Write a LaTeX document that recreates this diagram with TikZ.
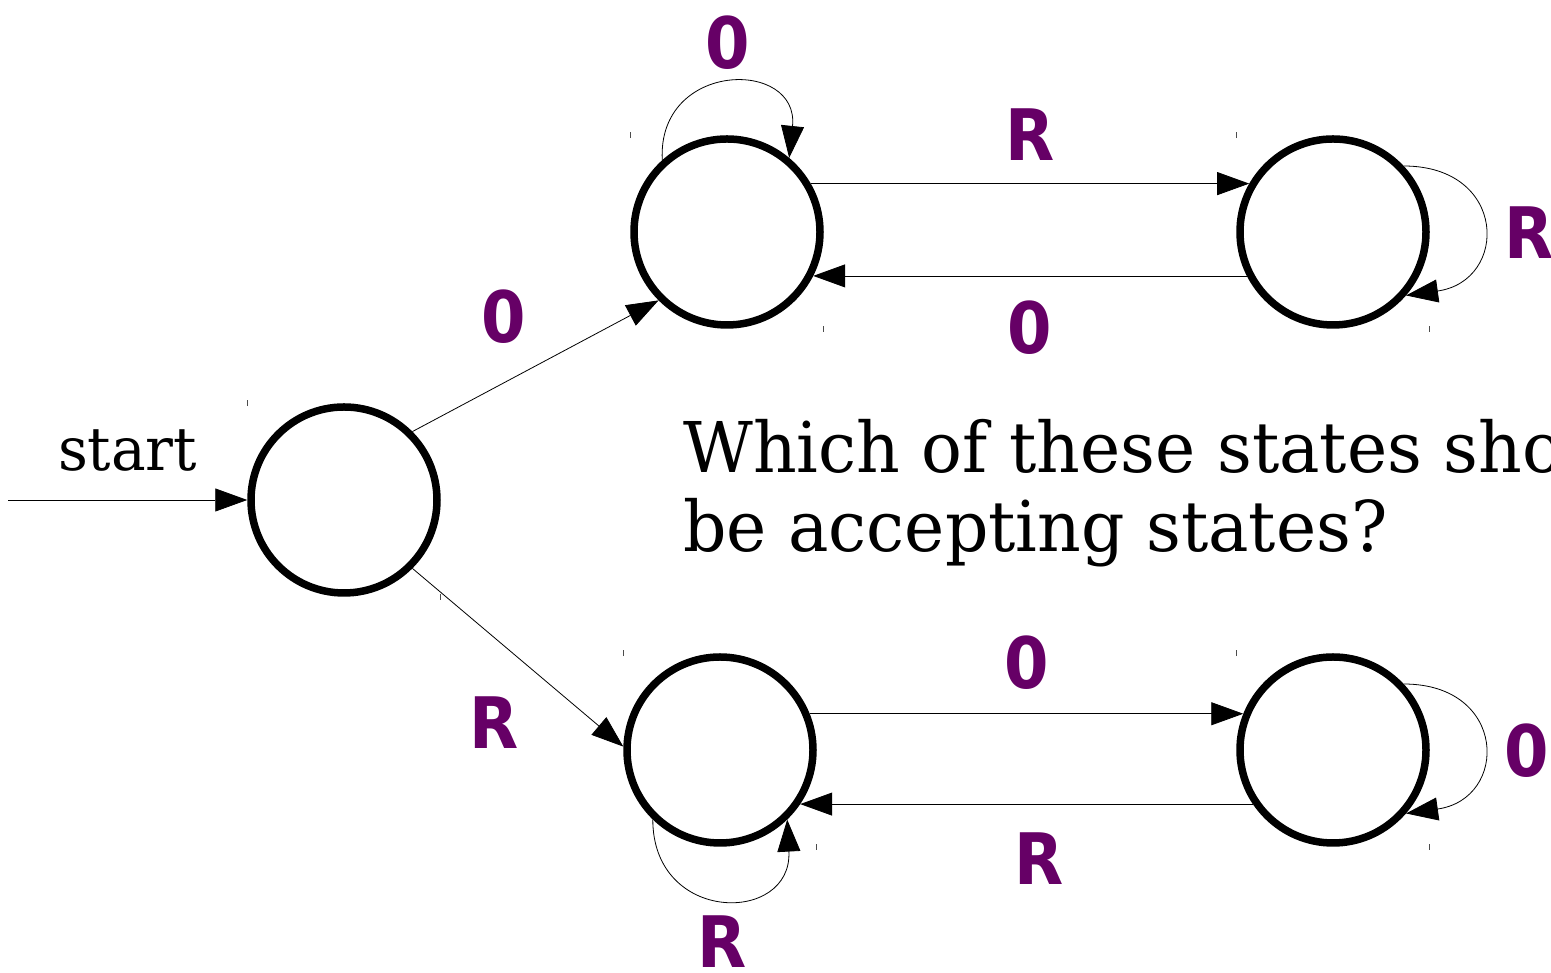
\documentclass[tikz,border=0pt]{standalone}
\usepackage{fontspec}
\setmainfont{DejaVu Serif}[FakeStretch=0.97]
\newfontfamily\symfont{DejaVu Sans}[FakeStretch=0.9]
\usepackage{tikz}
\usetikzlibrary{arrows.meta,positioning}
\definecolor{dfapurple}{HTML}{660066}

\begin{document}
\begin{tikzpicture}[
  x=1pt,y=1pt,
  state/.style={draw,circle,line width=7.5pt,minimum size=186pt,inner sep=0pt},
  arr/.style={-{Triangle[length=32pt,width=23pt]},line width=0.8pt},
  sym/.style={text=dfapurple,inner sep=0pt,font=\symfont\bfseries\fontsize{71}{71}\selectfont},
  tickmark/.style={line width=0.6pt,black!70}
]
\useasboundingbox (0,0) rectangle (1551,973);
\clip (0,0) rectangle (1551,973);
\node[state] (q0) at (344,473) {};
\node[state] (q1) at (727,741) {};
\node[state] (q2) at (1333,741) {};
\node[state] (q3) at (720,223) {};
\node[state] (q4) at (1333,223) {};
\coordinate (init) at (8,473);
\draw[arr] (init) -- node[above=28pt,inner sep=0pt,font=\fontsize{60}{64}\selectfont] (startlbl) {start} (q0);
\draw[arr] (q0.45) -- node[sym,xshift=-32pt,yshift=49pt] (l01) {0} (q1.225);
\draw[arr] (q0.-45) -- node[sym,xshift=-24pt,yshift=-65pt] (l03) {R} (q3.178);
\draw[arr] (q1.132) to[out=93,in=84,distance=100pt] node[sym,above=14pt] (l11) {0} (q1.50);
\draw[arr] (q1.30) -- node[sym,above=23pt] (l12) {R} (q2.150);
\draw[arr] (q2.-153) -- node[sym,below=24pt] (l21) {0} (q1.-27);
\draw[arr] (q2.43) to[out=0,in=8,distance=104pt] node[sym,right=22pt,yshift=-7pt] (l22) {R} (q2.-41);
\draw[arr] (q3.22) -- node[sym,above=24pt] (l34) {0} (q4.158);
\draw[arr] (q4.-146) -- node[sym,below=28pt,xshift=13pt] (l43) {R} (q3.-34);
\draw[arr] (q3.226) to[out=-90,in=-87,distance=105pt] node[sym,below=17pt] (l33) {R} (q3.-46);
\draw[arr] (q4.43) to[out=0,in=8,distance=104pt] node[sym,right=22pt,yshift=-7pt] (l44) {0} (q4.-41);
% little corner marks
\foreach \s in {q0,q1,q2,q3,q4} {
  \draw[tickmark] (\s.north -| \s.west) ++(0,-3) -- ++(0,6);
  \draw[tickmark] (\s.south -| \s.east) ++(0,-3) -- ++(0,6);
}
\node[anchor=north west,align=left,inner sep=0pt,font=\fontsize{70}{79}\selectfont] (ask) at (683,554) {Which of these states should\\be accepting states?};
\end{tikzpicture}
\end{document}
